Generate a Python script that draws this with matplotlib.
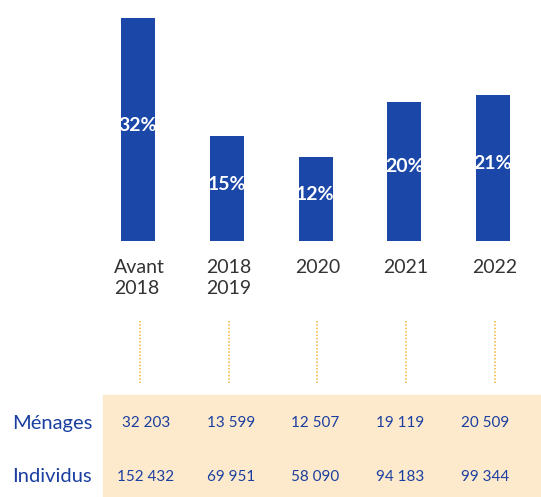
import numpy as np
import matplotlib
matplotlib.use("Agg")
import matplotlib.pyplot as plt
from matplotlib.patches import Rectangle

plt.rcParams["font.family"] = ["Lato", "DejaVu Sans"]

# data
categories = ["Avant\n2018", "2018\n2019", "2020", "2021", "2022"]
shares     = [32, 15, 12, 20, 21]
menages    = ["32 203", "13 599", "12 507", "19 119", "20 509"]
individus  = ["152 432", "69 951", "58 090", "94 183", "99 344"]

BLUE   = "#1b47a8"
NAVY   = "#1a3fa0"
ORANGE = "#f5b335"
CREAM  = "#fde9cc"

W, H = 541, 497
fig = plt.figure(figsize=(W / 100, H / 100), dpi=100)
ax = fig.add_axes([0, 0, 1, 1])

# pixel geometry -> data limits
x0, step = 138, 88.75          # first bar centre, spacing (px)
base, ppu = 240.5, 6.95        # baseline from top, px per percent
ax.set_xlim(-x0 / step, (W - x0) / step)
ax.set_ylim(-(H - base) / ppu, base / ppu)
ax.axis("off")

xs = np.arange(len(categories))
ax.bar(xs, shares, width=34 / step, color=BLUE, zorder=2)

for x, v in zip(xs, shares):
    ax.text(x, v / 2 + 0.6, f"{v}%", color="white", fontsize=14,
            fontweight="bold", ha="center", va="center", zorder=3)

tr = ax.get_xaxis_transform()
for x, lab in zip(xs, categories):
    ax.text(x + 0.02, 1 - 259 / H, lab, transform=tr, ha="center", va="top",
            multialignment="left", fontsize=14, color="#333333",
            linespacing=1.25)
    ax.plot([x + 0.02, x + 0.02], [1 - 321 / H, 1 - 383 / H], transform=tr,
            color=ORANGE, linestyle=(0, (1, 1.2)), linewidth=1.1)

# table band
ax.add_patch(Rectangle((103 / W, 0), 1 - 103 / W, 102 / H,
                       transform=ax.transAxes, color=CREAM, zorder=0))

col_x = 0.09 + 0.955 * xs
for lab, row, yp in [("Ménages", menages, 423), ("Individus", individus, 477)]:
    ax.text(12 / W, 1 - yp / H, lab, transform=ax.transAxes, ha="left",
            va="center", fontsize=14.5, color=NAVY)
    for x, s in zip(col_x, row):
        ax.text(x, 1 - yp / H, s, transform=tr, ha="center", va="center",
                fontsize=11, color=NAVY)

fig.savefig("out.png", dpi=100)
